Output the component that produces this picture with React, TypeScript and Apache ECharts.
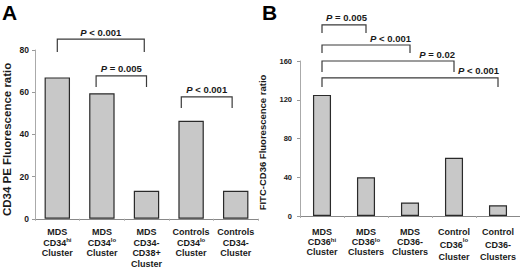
import React, { useEffect, useRef } from "react";
import * as echarts from "echarts";

// Panel A data
const categoriesA = [
  "MDS\nCD34^hi\nCluster",
  "MDS\nCD34^lo\nCluster",
  "MDS\nCD34-\nCD38+\nCluster",
  "Controls\nCD34^lo\nCluster",
  "Controls\nCD34-\nCluster",
];
const valuesA = [67, 59.5, 13.3, 46.4, 13.3];
const ticksA = { min: 0, max: 80, interval: 20 };
// brackets: [startCat, endCat, topValue, legBottomValue], label
const bracketsA = [
  { value: [0, 1.95, 85.2, 79], label: "<0.001", op: "<" },
  { value: [0.87, 2, 67.7, 62.5], label: "0.005", op: "=" },
  { value: [2.78, 3.92, 57.8, 52.5], label: "0.001", op: "<" },
];

// Panel B data
const categoriesB = [
  "MDS\nCD36^hi\nCluster",
  "MDS\nCD36^lo\nClusters",
  "MDS\nCD36-\nClusters",
  "Control\nCD36^lo\nCluster",
  "Control\nCD36-\nClusters",
];
const valuesB = [125, 40, 14, 60, 11];
const ticksB = { min: 0, max: 160, interval: 40 };
const bracketsB = [
  { value: [0, 1, 197.2, 188.9], label: "0.005", op: "=" },
  { value: [0, 2, 176.5, 168.3], label: "0.001", op: "<" },
  { value: [0, 3, 160, 148.6], label: "0.02", op: "=" },
  { value: [0, 4, 142.5, 133.2], label: "0.001", op: "<" },
];

const FONT = "'Liberation Sans', Arial, sans-serif";

function labelFormatter(tallSecond: boolean) {
  return (val: string) => {
    const lines = val.split("\n");
    return lines
      .map((line, i) => {
        const style = tallSecond && i === 1 ? "t" : "b";
        const sup = style === "t" ? "ts" : "s";
        const parts = line.split("^");
        let out = `{${style}|${parts[0]}}`;
        if (parts[1]) out += `{${sup}|${parts[1]}}`;
        return out;
      })
      .join("\n");
  };
}

function bracketSeries(data: any[], xi: number, align: "center" | "right") {
  return {
    type: "custom",
    xAxisIndex: xi,
    yAxisIndex: xi,
    clip: false,
    silent: true,
    z: 10,
    data: data.map((d) => ({ value: d.value, name: d.op + "|" + d.label })),
    renderItem: (params: any, api: any) => {
      const item = data[params.dataIndex];
      const [x1, x2, yt, yb] = item.value;
      const bw = api.size([1, 0])[0];
      const px = (x: number) => {
        const f = Math.floor(x);
        return api.coord([f, 0])[0] + (x - f) * bw;
      };
      const a = px(x1);
      const b = px(x2);
      const top = api.coord([0, yt])[1];
      const bot = api.coord([0, yb])[1];
      const tx = align === "center" ? (a + b) / 2 : b + 1;
      const opText = item.op === "<" ? " < " : " = ";
      const num = item.label.replace("<", "");
      return {
        type: "group",
        children: [
          {
            type: "polyline",
            shape: { points: [[a, bot], [a, top], [b, top], [b, bot]] },
            style: { stroke: "#3a3a3a", lineWidth: 1.2, fill: null },
          },
          {
            type: "text",
            x: tx,
            y: top - 7,
            style: {
              text: `{p|P}{n|${opText}${num}}`,
              align: align,
              verticalAlign: "middle",
              rich: {
                p: { fontFamily: FONT, fontSize: 9.5, fontWeight: "bold", fontStyle: "italic", fill: "#1a1a1a" },
                n: { fontFamily: FONT, fontSize: 9.5, fontWeight: "bold", fill: "#1a1a1a" },
              },
            },
          },
        ],
      };
    },
  };
}

export default function App() {
  const ref = useRef<HTMLDivElement>(null);
  useEffect(() => {
    if (!ref.current) return;
    const chart = echarts.init(ref.current, null, { renderer: "svg" });
    const axisLabelRich = (lh: number) => ({
      b: { fontFamily: FONT, fontSize: 9, fontWeight: "bold", color: "#1a1a1a", lineHeight: lh },
      s: { fontFamily: FONT, fontSize: 6, fontWeight: "bold", color: "#1a1a1a", lineHeight: lh, verticalAlign: "top" },
      t: { fontFamily: FONT, fontSize: 9, fontWeight: "bold", color: "#1a1a1a", lineHeight: 15 },
      ts: { fontFamily: FONT, fontSize: 6, fontWeight: "bold", color: "#1a1a1a", lineHeight: 15, verticalAlign: "top" },
    });
    const yAxisBase = (fs: number, margin: number) => ({
      type: "value",
      splitLine: { show: false },
      axisLine: { show: true, lineStyle: { color: "#aaaaaa", width: 1 } },
      axisTick: { show: true, length: 3, lineStyle: { color: "#999999" } },
      axisLabel: { fontFamily: FONT, fontSize: fs, fontWeight: "bold", color: "#1a1a1a", margin },
      nameLocation: "middle",
      nameRotate: 90,
    });
    chart.setOption({
      animation: false,
      backgroundColor: "#ffffff",
      grid: [
        { left: 29, right: 262, top: 50, bottom: 49 },
        { left: 300, right: 0, top: 61, bottom: 52 },
      ],
      xAxis: [
        {
          type: "category",
          gridIndex: 0,
          data: categoriesA,
          axisLine: { lineStyle: { color: "#888888" } },
          axisTick: { show: true, length: 2, lineStyle: { color: "#aaaaaa" } },
          axisLabel: { interval: 0, margin: 8, formatter: labelFormatter(false), rich: axisLabelRich(10.5) },
        },
        {
          type: "category",
          gridIndex: 1,
          data: categoriesB,
          axisLine: { lineStyle: { color: "#888888" } },
          axisTick: { show: true, length: 2, lineStyle: { color: "#aaaaaa" } },
          axisLabel: {
            interval: 0,
            margin: 11,
            formatter: (v: string) => labelFormatter(v.startsWith("Control"))(v),
            rich: axisLabelRich(10),
          },
        },
      ],
      yAxis: [
        {
          ...yAxisBase(8.5, 6),
          gridIndex: 0,
          min: ticksA.min,
          max: ticksA.max,
          interval: ticksA.interval,
          name: "CD34 PE Fluorescence ratio",
          nameGap: 22,
          nameTextStyle: { fontFamily: FONT, fontSize: 11.5, fontWeight: "bold", color: "#1a1a1a", padding: [0, 10, 0, 0] },
        },
        {
          ...yAxisBase(7.5, 8),
          gridIndex: 1,
          min: ticksB.min,
          max: ticksB.max,
          interval: ticksB.interval,
          name: "FITC-CD36 Fluorescence ratio",
          nameGap: 33,
          nameTextStyle: { fontFamily: FONT, fontSize: 9.5, fontWeight: "bold", color: "#1a1a1a", padding: [0, 8, 0, 0] },
        },
      ],
      graphic: [
        { type: "text", left: 2, top: 2, style: { text: "A", fontFamily: FONT, fontSize: 21, fontWeight: "bold", fill: "#000" } },
        { type: "text", left: 262, top: 2, style: { text: "B", fontFamily: FONT, fontSize: 21, fontWeight: "bold", fill: "#000" } },
      ],
      series: [
        {
          type: "bar",
          xAxisIndex: 0,
          yAxisIndex: 0,
          data: valuesA,
          barWidth: "57%",
          itemStyle: { color: "#c8c8c8", borderColor: "#2a2a2a", borderWidth: 1.2 },
        },
        {
          type: "bar",
          xAxisIndex: 1,
          yAxisIndex: 1,
          data: valuesB,
          barWidth: "41%",
          itemStyle: { color: "#c8c8c8", borderColor: "#2a2a2a", borderWidth: 1.2 },
        },
        bracketSeries(bracketsA, 0, "center"),
        bracketSeries(bracketsB, 1, "right"),
      ],
    });
    return () => chart.dispose();
  }, []);
  return (
    <div
      ref={ref}
      style={{ position: "absolute", left: 0, top: 0, width: 520, height: 268, background: "#fff" }}
    />
  );
}
